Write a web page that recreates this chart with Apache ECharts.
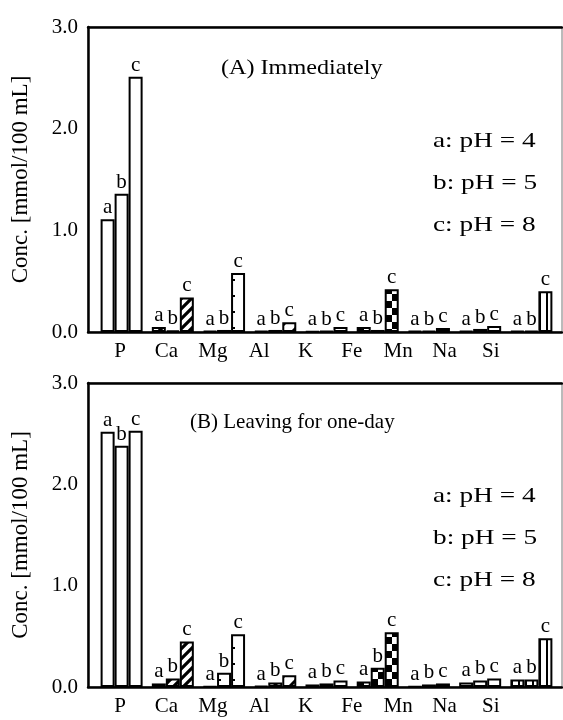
<!DOCTYPE html>
<html>
<head>
<meta charset="utf-8">
<script src="https://cdn.jsdelivr.net/npm/echarts@6/dist/echarts.min.js"></script>
<style>
html,body{margin:0;padding:0;background:#fff;}
#main{width:563px;height:720px;}
</style>
</head>
<body>
<div id="main"></div>
<script>
// ---- data ----
var categories = ['P', 'Ca', 'Mg', 'Al', 'K', 'Fe', 'Mn', 'Na', 'Si'];
var seriesLetters = ['a', 'b', 'c'];
// Panel A: Immediately
var A_pH4 = [1.11, 0.05, 0.01, 0.01, 0.005, 0.05, 0.01, 0.01, 0.01];
var A_pH5 = [1.36, 0.015, 0.02, 0.02, 0.01, 0.02, 0.01, 0.03, 0.01];
var A_pH8 = [2.51, 0.34, 0.58, 0.095, 0.05, 0.42, 0.04, 0.06, 0.40];
// Panel B: Leaving for one-day
var B_pH4 = [2.52, 0.035, 0.005, 0.01, 0.025, 0.055, 0.005, 0.045, 0.075];
var B_pH5 = [2.38, 0.085, 0.14, 0.045, 0.035, 0.19, 0.025, 0.065, 0.075];
var B_pH8 = [2.53, 0.45, 0.52, 0.115, 0.065, 0.54, 0.035, 0.085, 0.48];
var yTicks = [0, 1, 2, 3];
var panelTitles = ['(A) Immediately', '(B) Leaving for one-day'];
var legendLines = ['a: pH = 4', 'b: pH = 5', 'c: pH = 8'];
var yName = 'Conc. [mmol/100 mL]';

// ---- fill patterns per element (style) ----
function mk(w, h, draw) {
  var c = document.createElement('canvas');
  c.width = w; c.height = h;
  var g = c.getContext('2d');
  g.fillStyle = '#fff'; g.fillRect(0, 0, w, h);
  g.fillStyle = '#000'; g.strokeStyle = '#000';
  draw(g, w, h);
  return { image: c, repeat: 'repeat' };
}
var patterns = {
  white: '#ffffff',
  hatch: mk(10, 10, function (g) {
    g.lineWidth = 3.2;
    g.beginPath();
    g.moveTo(-2, 12); g.lineTo(12, -2);
    g.moveTo(-7, 7); g.lineTo(7, -7);
    g.moveTo(3, 17); g.lineTo(17, 3);
    g.stroke();
  }),
  dots: mk(14, 16, function (g) { g.fillRect(9, 7, 2, 2); }),
  sparse: mk(16, 16, function (g) {
    g.lineWidth = 3;
    g.beginPath();
    g.moveTo(-2, 18); g.lineTo(18, -2);
    g.stroke();
  }),
  check: mk(14, 14, function (g) { g.fillRect(0, 0, 7, 7); g.fillRect(7, 7, 7, 7); }),
  black: '#000000',
  vstripe: mk(7, 4, function (g) { g.fillRect(0, 0, 2, 4); })
};
var catFill = ['white', 'hatch', 'dots', 'sparse', 'white', 'check', 'black', 'white', 'vstripe'];

var FONT = 'Liberation Serif, Times New Roman, serif';
var panels = [
  { top: 27, height: 305, data: [A_pH4, A_pH5, A_pH8], titleY: 69, legY: [142, 184, 226] },
  { top: 383, height: 304, data: [B_pH4, B_pH5, B_pH8], titleY: 423, legY: [497, 539, 581] }
];
var titleX = [221, 190];
var titleScale = [1.15, 1.0];

var grid = [], xAxis = [], yAxis = [], series = [], graphic = [];
panels.forEach(function (p, pi) {
  var gf = grid.length; // frame grid
  grid.push({ left: 88, width: 474, top: p.top, height: p.height, show: true, borderColor: '#777', borderWidth: 1, backgroundColor: 'transparent' });
  var gd = grid.length; // bar grid
  grid.push({ left: 96, width: 461, top: p.top, height: p.height });
  var gl = grid.length; // category label grid
  grid.push({ left: 97, width: 417, top: p.top, height: p.height });

  // frame axes
  xAxis.push({ gridIndex: gf, type: 'value', min: 0, max: 1, position: 'bottom',
    axisLine: { show: true, onZero: false, lineStyle: { color: '#000', width: 2.5 } },
    axisTick: { show: false }, axisLabel: { show: false }, splitLine: { show: false } });
  xAxis.push({ gridIndex: gf, type: 'value', min: 0, max: 1, position: 'top',
    axisLine: { show: true, onZero: false, lineStyle: { color: '#000', width: 2.5 } },
    axisTick: { show: false }, axisLabel: { show: false }, splitLine: { show: false } });
  yAxis.push({ gridIndex: gf, type: 'value', min: 0, max: 3, interval: 1, position: 'left',
    name: yName, nameLocation: 'middle', nameGap: 56,
    nameTextStyle: { fontFamily: FONT, fontSize: 23, color: '#000' },
    axisLine: { show: true, onZero: false, lineStyle: { color: '#000', width: 2.5 } },
    axisTick: { show: false }, splitLine: { show: false },
    axisLabel: { margin: 10, fontFamily: FONT, fontSize: 21, color: '#000',
      formatter: function (v) { return v.toFixed(1); } } });

  // bar axes
  var xd = xAxis.length;
  xAxis.push({ gridIndex: gd, type: 'category', data: categories,
    axisLine: { show: false }, axisTick: { show: false }, splitLine: { show: false },
    axisLabel: { show: false } });
  var yd = yAxis.length;
  yAxis.push({ gridIndex: gd, type: 'value', min: 0, max: 3, interval: 1,
    axisLine: { show: false }, axisTick: { show: false }, axisLabel: { show: false }, splitLine: { show: false } });

  // category labels axis
  xAxis.push({ gridIndex: gl, type: 'category', data: categories,
    axisLine: { show: false }, axisTick: { show: false }, splitLine: { show: false },
    axisLabel: { margin: 9, fontFamily: FONT, fontSize: 21, color: '#000' } });
  yAxis.push({ gridIndex: gl, type: 'value', min: 0, max: 3, show: false });

  p.data.forEach(function (vals, si) {
    series.push({
      type: 'bar', xAxisIndex: xd, yAxisIndex: yd,
      barWidth: 14, barGap: '0%',
      itemStyle: { borderColor: '#000', borderWidth: 2 },
      label: { show: true, position: 'top', distance: 1, formatter: seriesLetters[si],
        fontFamily: FONT, fontSize: 21, color: '#000' },
      data: vals.map(function (v, ci) {
        return { value: v, itemStyle: { color: patterns[catFill[ci]] } };
      }),
      animation: false
    });
  });

  graphic.push({ type: 'text', left: titleX[pi], top: p.titleY - 11, scaleX: titleScale[pi],
    style: { text: panelTitles[pi], font: '21px ' + FONT, fill: '#000' } });
  legendLines.forEach(function (t, li) {
    graphic.push({ type: 'text', left: 433, top: p.legY[li] - 11, scaleX: 1.3,
      style: { text: t, font: '21px ' + FONT, fill: '#000' } });
  });
});

var chart = echarts.init(document.getElementById('main'), null, { renderer: 'canvas' });
chart.setOption({
  animation: false,
  backgroundColor: '#fff',
  grid: grid, xAxis: xAxis, yAxis: yAxis, series: series, graphic: graphic
});
</script>
</body>
</html>
